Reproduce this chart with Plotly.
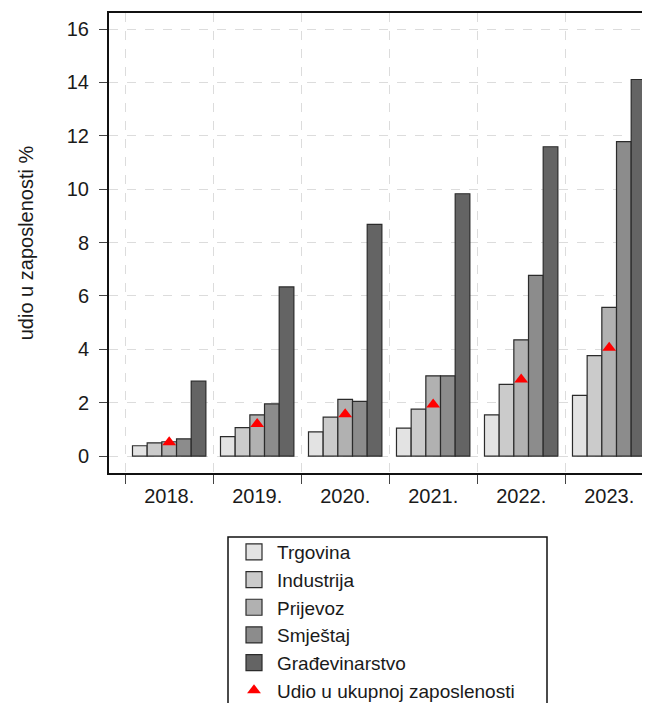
import plotly.graph_objects as go

# data
years = ['2018.', '2019.', '2020.', '2021.', '2022.', '2023.']
trgovina = [0.39, 0.73, 0.91, 1.05, 1.55, 2.28]
industrija = [0.50, 1.07, 1.46, 1.76, 2.69, 3.77]
prijevoz = [0.54, 1.55, 2.13, 3.01, 4.36, 5.57]
smjestaj = [0.65, 1.96, 2.05, 3.01, 6.77, 11.78]
gradjevinarstvo = [2.81, 6.34, 8.68, 9.83, 11.59, 14.11]
udio_ukupno = [0.52, 1.21, 1.57, 1.94, 2.87, 4.06]

sectors = [
    ('Trgovina', trgovina, '#e3e3e3'),
    ('Industrija', industrija, '#cbcbcb'),
    ('Prijevoz', prijevoz, '#b1b1b1'),
    ('Smještaj', smjestaj, '#8c8c8c'),
    ('Građevinarstvo', gradjevinarstvo, '#646464'),
]

FONT = 'Liberation Sans, Arial, sans-serif'
EDGE = '#2b2b2b'

fig = go.Figure()
for name, vals, color in sectors:
    fig.add_trace(go.Bar(
        x=years, y=vals, name=name, showlegend=False,
        marker=dict(color=color, line=dict(color=EDGE, width=1.2)),
    ))
    # bigger square swatch for the legend
    fig.add_trace(go.Scatter(
        x=[None], y=[None], mode='markers', name=name,
        marker=dict(symbol='square', size=16, color=color, line=dict(color=EDGE, width=1.2)),
    ))

fig.add_trace(go.Scatter(
    x=years, y=udio_ukupno, mode='markers',
    name='Udio u ukupnoj zaposlenosti',
    marker=dict(symbol='triangle-up', size=12, color='#ff0000'),
))

# legend frame drawn as a shape so it can be wider than the text
fig.add_shape(
    type='rect', xref='paper', yref='paper',
    x0=(228 - 109) / 541, x1=(547 - 109) / 541,
    y0=(473 - 537) / 460, y1=(473 - 715) / 460,
    line=dict(color='#111111', width=1.5), fillcolor='white', layer='above',
)

# page body has an 8px margin, so the figure is placed 8px in from the corner
fig.update_layout(
    width=642, height=695,
    margin=dict(l=101, r=0, t=5, b=230, autoexpand=False),
    plot_bgcolor='white', paper_bgcolor='white',
    font=dict(family=FONT, size=20, color='#1a1a1a'),
    barmode='group', bargap=0.166, bargroupgap=0,
    showlegend=True,
    legend=dict(
        x=(223 - 101) / 541, y=(465 - 525) / 460, xanchor='left', yanchor='top',
        borderwidth=0, bgcolor='rgba(0,0,0,0)',
        font=dict(family=FONT, size=19, color='#1a1a1a'),
        tracegroupgap=0, itemwidth=36, itemsizing='trace',
    ),
)

fig.update_xaxes(
    range=[-0.684, 5.464], tickangle=0,
    tickson='boundaries', ticks='outside', ticklen=9, tickcolor='#444',
    ticklabelstandoff=4,
    showline=True, linecolor='#111', linewidth=2, mirror=True,
    showgrid=True, gridcolor='#dcdcdc', griddash='dash', gridwidth=1,
    tickfont=dict(size=20),
)
fig.update_yaxes(
    range=[-0.63, 16.6],
    tickvals=[0, 2, 4, 6, 8, 10, 12, 14, 16],
    ticks='outside', ticklen=8, tickcolor='#444', ticklabelstandoff=6,
    showline=True, linecolor='#111', linewidth=2, mirror=False,
    showgrid=True, gridcolor='#dcdcdc', griddash='dash', gridwidth=1,
    zeroline=False, tickfont=dict(size=20),
    title=dict(text='udio u zaposlenosti %', standoff=28, font=dict(size=20)),
)

fig.write_html('out.html')
